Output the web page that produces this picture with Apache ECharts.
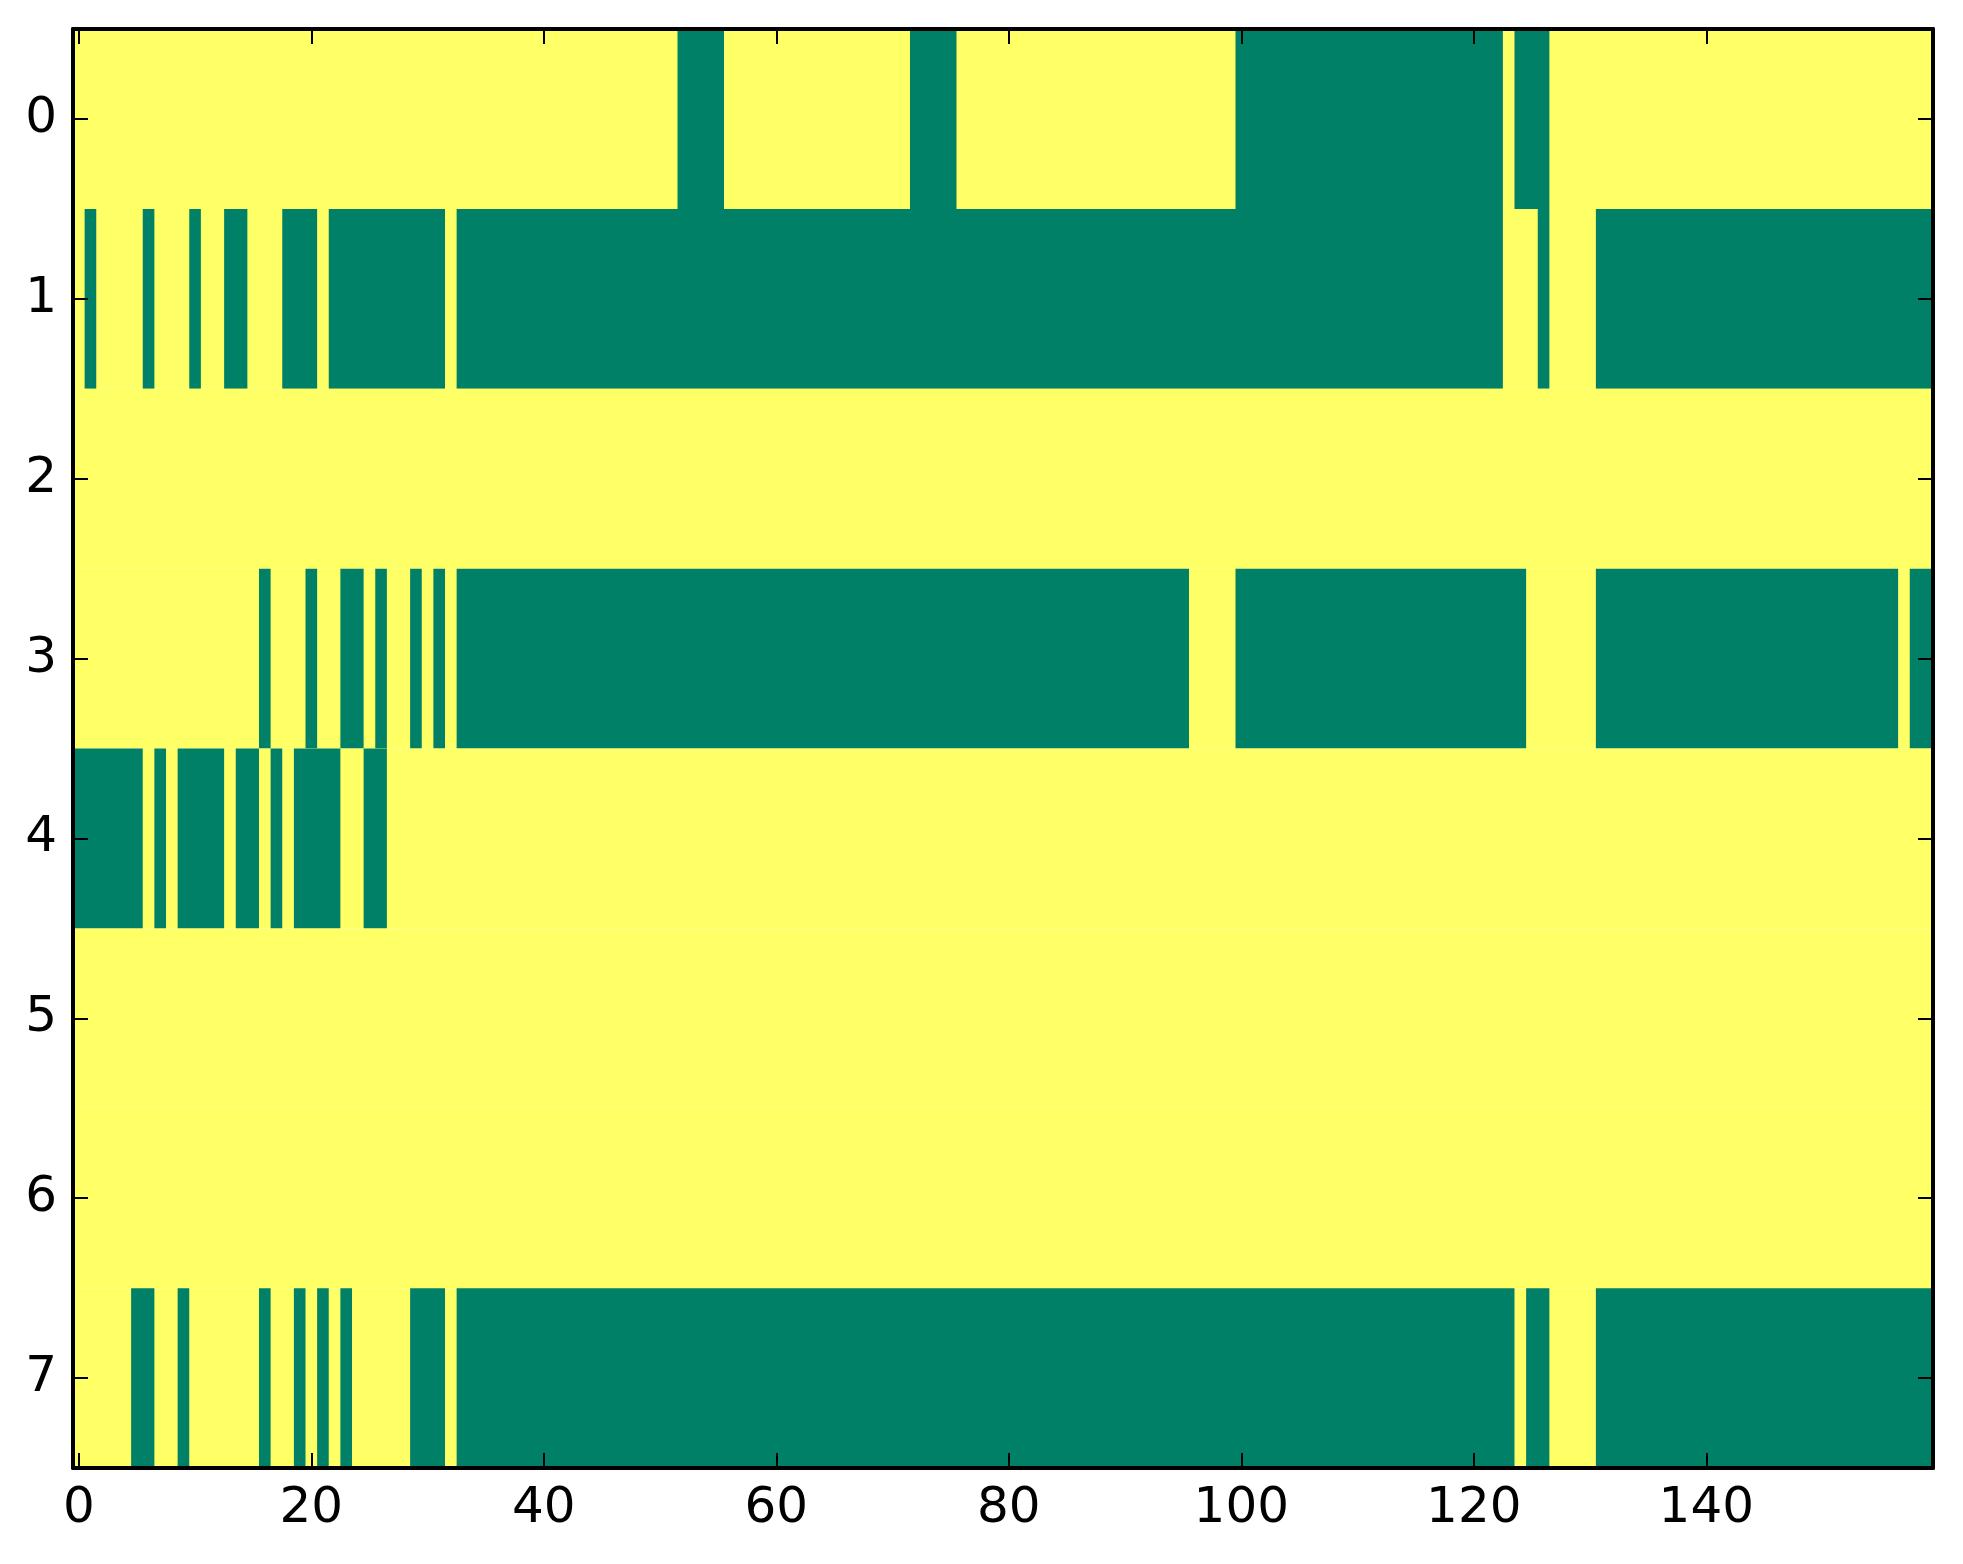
<!DOCTYPE html>
<html>
<head>
<meta charset="utf-8">
<style>
  html, body { margin: 0; padding: 0; background: #ffffff; }
  #chart { width: 1963px; height: 1564px; }
</style>
<script src="https://cdn.jsdelivr.net/npm/echarts@6/dist/echarts.min.js"></script>
</head>
<body>
<div id="chart"></div>
<script>
// ---- data ----
const nCols = 160;
const yLabels = ['0', '1', '2', '3', '4', '5', '6', '7'];
const xTickLabels = [0, 20, 40, 60, 80, 100, 120, 140];
const colorZero = '#008066';   // value 0 (green)
const colorOne = '#ffff66';    // value 1 (yellow)

// green (value 0) runs per row, inclusive column indices; everything else is 1
const row0Zero = [[52, 55], [72, 75], [100, 122], [124, 126]];
const row1Zero = [[1, 1], [6, 6], [10, 10], [13, 14], [18, 20], [22, 31], [33, 122], [126, 126], [131, 159]];
const row2Zero = [];
const row3Zero = [[16, 16], [20, 20], [23, 24], [26, 26], [29, 29], [31, 31], [33, 95], [100, 124], [131, 156], [158, 159]];
const row4Zero = [[0, 5], [7, 7], [9, 12], [14, 15], [17, 17], [19, 22], [25, 26]];
const row5Zero = [];
const row6Zero = [];
const row7Zero = [[5, 6], [9, 9], [16, 16], [19, 19], [21, 21], [23, 23], [29, 31], [33, 123], [125, 126], [131, 159]];
const zeroRuns = [row0Zero, row1Zero, row2Zero, row3Zero, row4Zero, row5Zero, row6Zero, row7Zero];

// ---- build ----
const xCategories = [];
for (let i = 0; i < nCols; i++) xCategories.push(String(i));
const tickSet = new Set(xTickLabels);
const showTick = (idx) => tickSet.has(idx);

const segs = [];
zeroRuns.forEach((runs, r) => {
  segs.push([0, nCols - 1, r, 1]);
  runs.forEach(([s, e]) => segs.push([s, e, r, 0]));
});

const chart = echarts.init(document.getElementById('chart'), null, { renderer: 'canvas' });
const font = 'DejaVu Sans';
const lineStyle = { color: '#000', width: 4 };
const tickStyle = { color: '#000', width: 2 };

chart.setOption({
  backgroundColor: '#ffffff',
  animation: false,
  textStyle: { fontFamily: font },
  grid: { left: 73, right: 30, top: 29, bottom: 96, containLabel: false },
  xAxis: [
    {
      type: 'category', data: xCategories, position: 'bottom', boundaryGap: true, z: 10,
      axisLine: { show: true, lineStyle: lineStyle },
      axisTick: { show: true, inside: true, length: 15, alignWithLabel: true, interval: showTick, lineStyle: tickStyle },
      axisLabel: { show: true, interval: showTick, fontSize: 50, fontFamily: font, color: '#000', margin: 16 },
      splitLine: { show: false }
    },
    {
      type: 'category', data: xCategories, position: 'top', boundaryGap: true, z: 10,
      axisLine: { show: true, lineStyle: lineStyle },
      axisTick: { show: true, inside: true, length: 15, alignWithLabel: true, interval: showTick, lineStyle: tickStyle },
      axisLabel: { show: false },
      splitLine: { show: false }
    }
  ],
  yAxis: [
    {
      type: 'category', data: yLabels, position: 'left', inverse: true, boundaryGap: true, z: 10,
      axisLine: { show: true, lineStyle: lineStyle },
      axisTick: { show: true, inside: true, length: 15, alignWithLabel: true, lineStyle: tickStyle },
      axisLabel: { show: true, fontSize: 50, fontFamily: font, color: '#000', margin: 16 },
      splitLine: { show: false }
    },
    {
      type: 'category', data: yLabels, position: 'right', inverse: true, boundaryGap: true, z: 10,
      axisLine: { show: true, lineStyle: lineStyle },
      axisTick: { show: true, inside: true, length: 15, alignWithLabel: true, lineStyle: tickStyle },
      axisLabel: { show: false },
      splitLine: { show: false }
    }
  ],
  series: [{
    type: 'custom',
    xAxisIndex: 0,
    yAxisIndex: 0,
    clip: true,
    z: 1,
    encode: { x: [0, 1], y: 2 },
    data: segs,
    renderItem: function (params, api) {
      const s = api.coord([api.value(0), api.value(2)]);
      const e = api.coord([api.value(1), api.value(2)]);
      const size = api.size([1, 1]);
      return {
        type: 'rect',
        shape: {
          x: s[0] - size[0] / 2,
          y: s[1] - size[1] / 2,
          width: e[0] - s[0] + size[0],
          height: size[1]
        },
        style: { fill: api.value(3) === 0 ? colorZero : colorOne }
      };
    }
  }]
});
</script>
</body>
</html>
